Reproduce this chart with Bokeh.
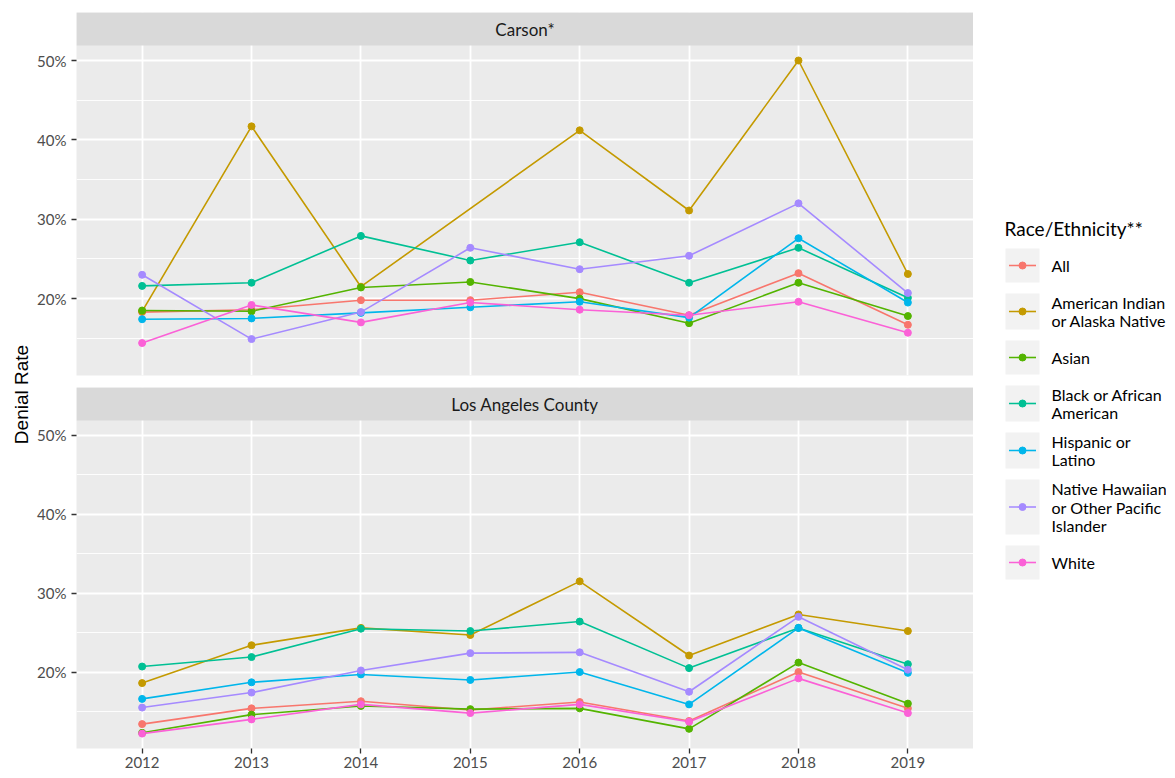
import math
from bokeh.plotting import figure
from bokeh.layouts import row, column
from bokeh.models import Range1d, BoxAnnotation, Label, FixedTicker, PrintfTickFormatter
from bokeh.embed import file_html
from bokeh.resources import INLINE
from bokeh.core.properties import value

# ---------------- data ----------------
YEARS = [2012, 2013, 2014, 2015, 2016, 2017, 2018, 2019]
GROUPS = ["All", "American Indian or Alaska Native", "Asian", "Black or African American",
          "Hispanic or Latino", "Native Hawaiian or Other Pacific Islander", "White"]
LEGEND_LINES = [["All"], ["American Indian", "or Alaska Native"], ["Asian"],
                ["Black or African", "American"], ["Hispanic or", "Latino"],
                ["Native Hawaiian", "or Other Pacific", "Islander"], ["White"]]
COLORS = ["#F8766D", "#C49A00", "#53B400", "#00C094", "#00B6EB", "#A58AFF", "#FB61D7"]
PANELS = ["Carson*", "Los Angeles County"]
Y_TICKS = [20, 30, 40, 50]
Y_MINOR = [15, 25, 35, 45]

carson_all = [18.3, 18.6, 19.8, 19.8, 20.8, 17.9, 23.2, 16.7]
carson_aian = [18.4, 41.7, 21.5, None, 41.2, 31.1, 50.0, 23.1]
carson_asian = [18.5, 18.4, 21.4, 22.1, 20.0, 16.9, 22.0, 17.8]
carson_black = [21.6, 22.0, 27.9, 24.8, 27.1, 22.0, 26.4, 20.1]
carson_hisp = [17.4, 17.5, 18.2, 18.9, 19.6, 17.6, 27.6, 19.5]
carson_nhpi = [23.0, 14.9, 18.3, 26.4, 23.7, 25.4, 32.0, 20.7]
carson_white = [14.4, 19.2, 17.0, 19.5, 18.6, 17.9, 19.6, 15.7]

la_all = [13.4, 15.4, 16.3, 15.2, 16.2, 13.8, 20.0, 15.4]
la_aian = [18.6, 23.4, 25.6, 24.7, 31.5, 22.1, 27.3, 25.2]
la_asian = [12.3, 14.6, 15.7, 15.3, 15.4, 12.8, 21.2, 16.0]
la_black = [20.7, 21.9, 25.5, 25.2, 26.4, 20.5, 25.6, 21.0]
la_hisp = [16.6, 18.7, 19.7, 19.0, 20.0, 15.9, 25.6, 19.9]
la_nhpi = [15.5, 17.4, 20.2, 22.4, 22.5, 17.5, 27.0, 20.3]
la_white = [12.2, 14.0, 15.9, 14.8, 15.9, 13.7, 19.2, 14.8]

carson = [carson_all, carson_aian, carson_asian, carson_black, carson_hisp, carson_nhpi, carson_white]
la = [la_all, la_aian, la_asian, la_black, la_hisp, la_nhpi, la_white]

# ---------------- style ----------------
FONT = "Lato"
TICK_COLOR = "#4D4D4D"
PANEL_BG = "#EBEBEB"
STRIP_BG = "#D9D9D9"
STRIP_PX = 33
FRAME_W = 897
LEFT_W = 34
LEFT_BORDER = 39
H = 770

allv = [v for s in carson + la for v in s if v is not None]
vmin, vmax = min(allv), max(allv)
span = vmax - vmin
LO = vmin - 0.05 * span
HI = vmax + 0.05 * span


def make_panel(title, series, panel_h, show_x, top_border, bottom_border):
    top = HI + (HI - LO) * STRIP_PX / panel_h
    p = figure(frame_width=FRAME_W, frame_height=panel_h + STRIP_PX,
               x_range=Range1d(YEARS[0] - 0.6, YEARS[-1] + 0.6),
               y_range=Range1d(LO, top),
               x_axis_location="below" if show_x else None,
               output_backend="svg", toolbar_location=None,
               min_border_left=LEFT_BORDER, min_border_right=0,
               min_border_top=top_border, min_border_bottom=bottom_border)
    p.background_fill_color = PANEL_BG
    p.border_fill_color = "white"
    p.outline_line_color = None

    # grid
    p.ygrid.ticker = FixedTicker(ticks=Y_TICKS, minor_ticks=Y_MINOR)
    p.ygrid.grid_line_color = "white"
    p.ygrid.grid_line_width = 1.8
    p.ygrid.minor_grid_line_color = "white"
    p.ygrid.minor_grid_line_width = 0.9
    p.xgrid.ticker = FixedTicker(ticks=YEARS)
    p.xgrid.grid_line_color = "white"
    p.xgrid.grid_line_width = 1.8

    # y axis
    ya = p.yaxis[0]
    ya.ticker = FixedTicker(ticks=Y_TICKS, minor_ticks=[])
    ya.formatter = PrintfTickFormatter(format="%d%%")
    ya.axis_line_color = None
    ya.major_tick_line_color = "#333333"
    ya.major_tick_line_width = 1.3
    ya.major_tick_in = 0
    ya.major_tick_out = 5
    ya.minor_tick_line_color = None
    ya.major_label_text_color = TICK_COLOR
    ya.major_label_text_font = FONT
    ya.major_label_text_font_size = "15px"
    ya.major_label_standoff = 5

    if show_x:
        xa = p.xaxis[0]
        xa.ticker = FixedTicker(ticks=YEARS, minor_ticks=[])
        xa.axis_line_color = None
        xa.major_tick_line_color = "#333333"
        xa.major_tick_line_width = 1.3
        xa.major_tick_in = 0
        xa.major_tick_out = 5
        xa.minor_tick_line_color = None
        xa.major_label_text_color = TICK_COLOR
        xa.major_label_text_font = FONT
        xa.major_label_text_font_size = "15px"
        xa.major_label_standoff = 3

    # lines first, then points (ggplot layer order)
    for vals, col in zip(series, COLORS):
        xs = [x for x, v in zip(YEARS, vals) if v is not None]
        ys = [v for v in vals if v is not None]
        p.line(xs, ys, line_color=col, line_width=1.6)
    for vals, col in zip(series, COLORS):
        xs = [x for x, v in zip(YEARS, vals) if v is not None]
        ys = [v for v in vals if v is not None]
        p.scatter(xs, ys, size=7, fill_color=col, line_color=col)

    # facet strip
    p.add_layout(BoxAnnotation(bottom=HI, fill_color=STRIP_BG, fill_alpha=1.0,
                               line_color=None))
    p.add_layout(Label(x=(YEARS[0] + YEARS[-1]) / 2, y=(HI + top) / 2, text=title,
                       text_align="center", text_baseline="middle",
                       text_font=FONT, text_font_size="17px", text_color="#1A1A1A"))
    return p


top_p = make_panel(PANELS[0], carson, 330, False, 12, 12)
bot_p = make_panel(PANELS[1], la, 328, True, 0, 20)

# y-axis title
left = figure(width=LEFT_W, height=H, x_range=Range1d(0, LEFT_W), y_range=Range1d(H, 0),
              x_axis_location=None, y_axis_location=None,
              output_backend="svg", toolbar_location=None, min_border=0)
left.grid.visible = False
left.outline_line_color = None
left.add_layout(Label(x=21, y=394, text="Denial Rate", angle=math.pi / 2,
                      text_align="center", text_baseline="middle",
                      text_font="Liberation Sans", text_font_size="19px", text_color="black"))

# legend (coordinates in page pixels)
LX0, LX1 = 974, 1167
leg = figure(width=LX1 - LX0, height=H, x_range=Range1d(LX0, LX1), y_range=Range1d(H, 0),
             x_axis_location=None, y_axis_location=None,
             output_backend="svg", toolbar_location=None, min_border=0)
leg.grid.visible = False
leg.outline_line_color = None

leg.text(x=[1005], y=[228], text=["Race/Ethnicity**"], text_font=value(FONT),
         text_font_size="19px", text_baseline="middle", text_align="left", text_color="black")

y = 248
GAP = 11
LINE_H = 18.5
for lines, col in zip(LEGEND_LINES, COLORS):
    n = len(lines)
    h = {1: 34, 2: 36, 3: 55}[n]
    cy = y + h / 2
    leg.quad(left=[1006], right=[1040], top=[y], bottom=[y + h], fill_color="#F2F2F2",
             line_color=None)
    leg.segment(x0=[1009.5], x1=[1036.5], y0=[cy], y1=[cy], line_color=col, line_width=1.6)
    leg.scatter(x=[1023], y=[cy], size=7, fill_color=col, line_color=col)
    for i, t in enumerate(lines):
        ty = cy + (i - (n - 1) / 2) * LINE_H
        leg.text(x=[1052], y=[ty], text=[t], text_font=value(FONT), text_font_size="16px",
                 text_baseline="middle", text_align="left", text_color="black")
    y += h + GAP

layout = row(left, column(top_p, bot_p), leg)
open("out.html", "w").write(file_html(layout, INLINE))
